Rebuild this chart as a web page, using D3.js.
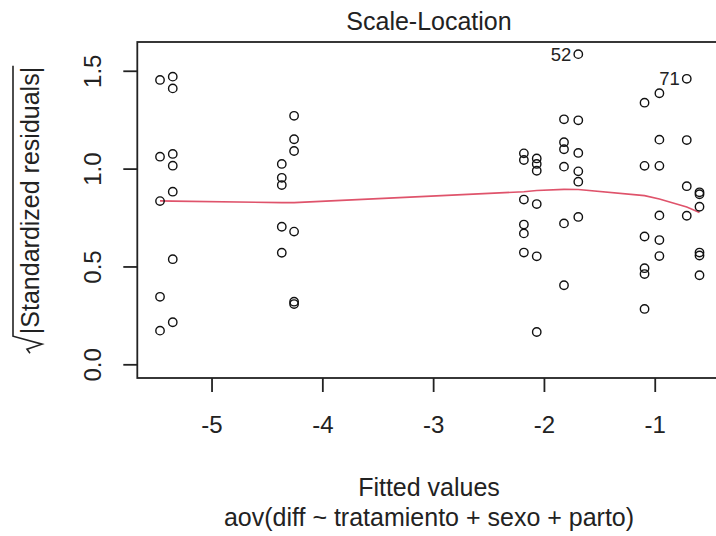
<!DOCTYPE html>
<html lang="en">
<head>
<meta charset="UTF-8">
<title>Scale-Location</title>
<script src="https://cdn.jsdelivr.net/npm/d3@7"></script>
<style>
  body { margin: 0; background: #fff; }
  svg { display: block; font-family: "Liberation Sans", Arial, sans-serif; }
</style>
</head>
<body>
<script>
// fitted values (one per group) and sqrt(|standardized residuals|)
const fitted = [-5.465, -5.350, -4.366, -4.255, -2.181, -2.065, -1.819, -1.690, -1.092, -0.958, -0.711, -0.596];
const sqrtRes = [
  [1.453, 1.061, 0.834, 0.345, 0.172],
  [1.470, 1.410, 1.075, 1.015, 0.882, 0.537, 0.215],
  [1.024, 0.953, 0.916, 0.703, 0.570],
  [1.270, 1.150, 1.090, 0.678, 0.320, 0.308],
  [1.078, 1.044, 0.842, 0.714, 0.669, 0.571],
  [1.052, 1.024, 0.989, 0.819, 0.552, 0.165],
  [1.252, 1.135, 1.099, 1.010, 0.720, 0.404],
  [1.585, 1.247, 1.080, 0.986, 0.933, 0.753],
  [1.337, 1.014, 0.653, 0.491, 0.461, 0.283],
  [1.385, 1.148, 1.014, 0.761, 0.635, 0.553],
  [1.459, 1.146, 0.910, 0.759],
  [0.879, 0.869, 0.805, 0.571, 0.556, 0.455]
];
// lowess smoother evaluated at each fitted value
const smooth = [0.835, 0.834, 0.826, 0.826, 0.882, 0.888, 0.894, 0.893, 0.862, 0.845, 0.804, 0.776];
// labelled extreme observations
const labelIds = ["52", "71"];
const labelFit = [-1.690, -0.711];
const labelVal = [1.585, 1.459];

const xTicks = [-5, -4, -3, -2, -1];
const yTicks = [0, 0.5, 1, 1.5];

const width = 716, height = 536;
const mLeft = 137.3, mTop = 42, mBottom = 378;

const svg = d3.select("body").append("svg").attr("width", width).attr("height", height);

const x = d3.scaleLinear().domain([-5.670, -0.40]).range([mLeft, mLeft + 5.27 * 110.8]);
const y = d3.scaleLinear().domain([-0.070, 1.647]).range([mBottom, mTop]);

const points = fitted.flatMap((f, i) => sqrtRes[i].map(v => ({f, v})));

// smoother line
svg.append("path")
  .datum(fitted.map((f, i) => [f, smooth[i]]))
  .attr("d", d3.line().x(d => x(d[0])).y(d => y(d[1])))
  .attr("fill", "none")
  .attr("stroke", "#DF536B")
  .attr("stroke-width", 1.6);

svg.selectAll("circle.pt")
  .data(points)
  .join("circle")
  .attr("class", "pt")
  .attr("cx", d => x(d.f))
  .attr("cy", d => y(d.v))
  .attr("r", 4.2)
  .attr("fill", "none")
  .attr("stroke", "#111")
  .attr("stroke-width", 1.4);

svg.selectAll("text.lab")
  .data(labelIds)
  .join("text")
  .attr("class", "lab")
  .attr("x", (d, i) => x(labelFit[i]) - 7)
  .attr("y", (d, i) => y(labelVal[i]))
  .attr("dy", "0.36em")
  .attr("text-anchor", "end")
  .attr("font-size", 18.5)
  .attr("fill", "#222")
  .text(d => d);

// box
svg.append("rect")
  .attr("x", mLeft).attr("y", mTop)
  .attr("width", x.range()[1] - mLeft).attr("height", mBottom - mTop)
  .attr("fill", "none").attr("stroke", "#222").attr("stroke-width", 1.8);

// x axis
const gx = svg.append("g").attr("transform", `translate(0,${mBottom})`)
  .call(d3.axisBottom(x).tickValues(xTicks).tickSize(14).tickFormat(d => String(d)));
gx.select(".domain").remove();
gx.selectAll("line").attr("stroke", "#222").attr("stroke-width", 1.8);
gx.selectAll("text").attr("y", 55).attr("dy", 0).attr("font-size", 24).attr("fill", "#222");

// y axis, labels parallel to the axis
const gy = svg.append("g").attr("transform", `translate(${mLeft},0)`)
  .call(d3.axisLeft(y).tickValues(yTicks).tickSize(14).tickFormat(d3.format(".1f")));
gy.select(".domain").remove();
gy.selectAll("line").attr("stroke", "#222").attr("stroke-width", 1.8);
gy.selectAll("text")
  .attr("x", 0).attr("dy", 0)
  .attr("transform", "translate(-36,0) rotate(-90)")
  .attr("text-anchor", "middle")
  .attr("font-size", 24).attr("fill", "#222");

// titles
svg.append("text").attr("x", 429).attr("y", 30).attr("text-anchor", "middle")
  .attr("font-size", 25).attr("fill", "#222").text("Scale-Location");
svg.append("text").attr("x", 429).attr("y", 496).attr("text-anchor", "middle")
  .attr("font-size", 25).attr("fill", "#222").text("Fitted values");
svg.append("text").attr("x", 429).attr("y", 526).attr("text-anchor", "middle")
  .attr("font-size", 25).attr("fill", "#222").text("aov(diff ~ tratamiento + sexo + parto)");

// y label: sqrt(|Standardized residuals|)
const yl = svg.append("g").attr("transform", "translate(39,210) rotate(-90)");
const ylt = yl.append("text").attr("font-size", 25).attr("fill", "#222").text("|Standardized residuals|");
const tw = ylt.node().getComputedTextLength();
const rad = 19, start = -(tw + rad) / 2;
ylt.attr("x", start + rad);
yl.append("path")
  .attr("d", `M${start},-9 L${start + 4},-12 L${start + 9},3 L${start + 17},-26 L${start + rad + tw + 1},-26`)
  .attr("fill", "none").attr("stroke", "#222").attr("stroke-width", 1.6);
</script>
</body>
</html>
